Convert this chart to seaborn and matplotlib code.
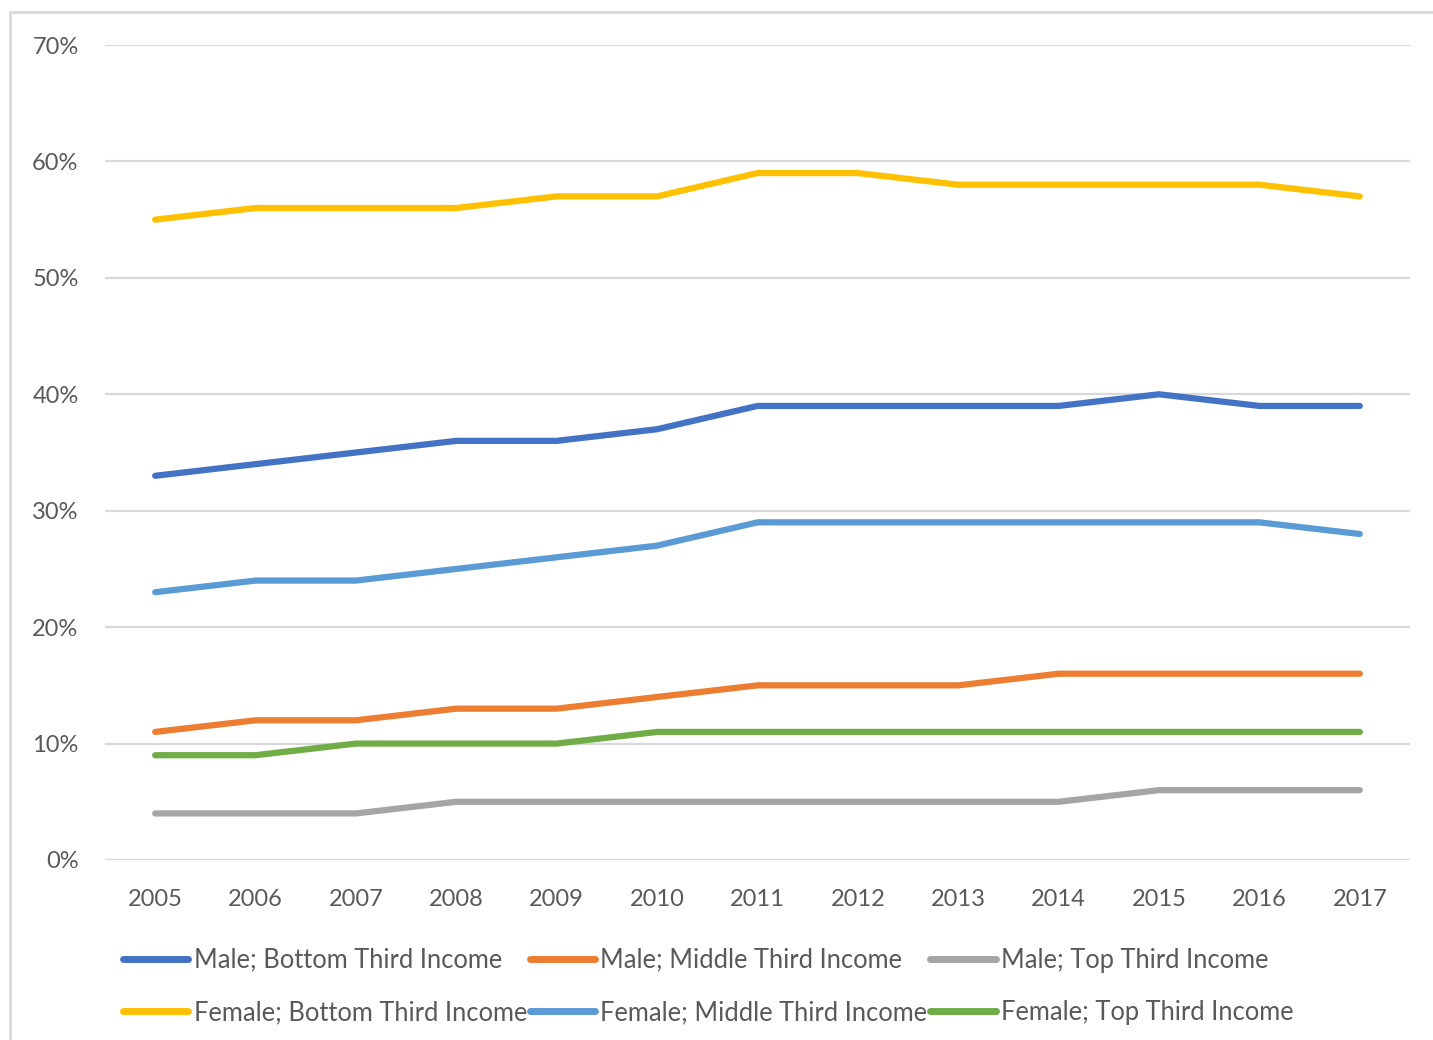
import matplotlib
matplotlib.use("Agg")
import matplotlib.pyplot as plt
import seaborn as sns
import pandas as pd
from matplotlib.patches import Rectangle
from matplotlib.ticker import PercentFormatter

years = ["2005", "2006", "2007", "2008", "2009", "2010", "2011",
         "2012", "2013", "2014", "2015", "2016", "2017"]

male_bottom = [33, 34, 35, 36, 36, 37, 39, 39, 39, 39, 40, 39, 39]
male_middle = [11, 12, 12, 13, 13, 14, 15, 15, 15, 16, 16, 16, 16]
male_top = [4, 4, 4, 5, 5, 5, 5, 5, 5, 5, 6, 6, 6]
female_bottom = [55, 56, 56, 56, 57, 57, 59, 59, 58, 58, 58, 58, 57]
female_middle = [23, 24, 24, 25, 26, 27, 29, 29, 29, 29, 29, 29, 28]
female_top = [9, 9, 10, 10, 10, 11, 11, 11, 11, 11, 11, 11, 11]

series = {
    "Male; Bottom Third Income": male_bottom,
    "Male; Middle Third Income": male_middle,
    "Male; Top Third Income": male_top,
    "Female; Bottom Third Income": female_bottom,
    "Female; Middle Third Income": female_middle,
    "Female; Top Third Income": female_top,
}
colors = ["#4472C4", "#ED7D31", "#A5A5A5", "#FFC000", "#5B9BD5", "#70AD47"]

rows = []
for name, vals in series.items():
    for i, v in enumerate(vals):
        rows.append({"pos": i, "year": years[i], "value": v, "series": name})
df = pd.DataFrame(rows)

sns.set_theme(style="white")
plt.rcParams["font.family"] = ["Lato", "DejaVu Sans"]
text_color = "#595959"

fig = plt.figure(figsize=(14.33, 10.4), dpi=100)
ax = fig.add_axes([105 / 1433, 1 - 860 / 1040, 1305 / 1433, 815 / 1040])

sns.lineplot(data=df, x="pos", y="value", hue="series", palette=colors,
             linewidth=4.5, ax=ax, solid_capstyle="round", legend=True)

ax.set_xlim(-0.5, 12.5)
ax.set_ylim(0, 70)
ax.set_yticks(range(0, 71, 10))
ax.yaxis.set_major_formatter(PercentFormatter(decimals=0))
ax.set_xticks(range(len(years)))
ax.set_xticklabels(years)
ax.grid(axis="y", color="#D9D9D9", linewidth=1.6)
ax.set_axisbelow(True)
for s in ax.spines.values():
    s.set_visible(False)
ax.set_xlabel("")
ax.set_ylabel("")
ax.tick_params(axis="both", length=0, labelsize=17, labelcolor=text_color)
ax.tick_params(axis="y", pad=19)
ax.tick_params(axis="x", pad=21)

# legend, row-wise order like the original
handles, labels = ax.get_legend_handles_labels()
order = [0, 3, 1, 4, 2, 5]
leg = ax.legend([handles[i] for i in order], [labels[i] for i in order],
                ncol=3, loc="upper left", bbox_to_anchor=(8 / 1305, -0.095),
                frameon=False, fontsize=18.4, labelcolor=text_color,
                handlelength=2.55, handletextpad=0.2, columnspacing=0.12,
                labelspacing=1.08, borderaxespad=0)
for h in leg.get_lines():
    h.set_linewidth(5)

# chart frame
fig.patches.append(Rectangle((10 / 1433, -0.05), 1.1, 1 - 12 / 1040 + 0.05,
                             transform=fig.transFigure, fill=False,
                             edgecolor="#D9D9D9", linewidth=2))

fig.savefig("out.png", dpi=100)
